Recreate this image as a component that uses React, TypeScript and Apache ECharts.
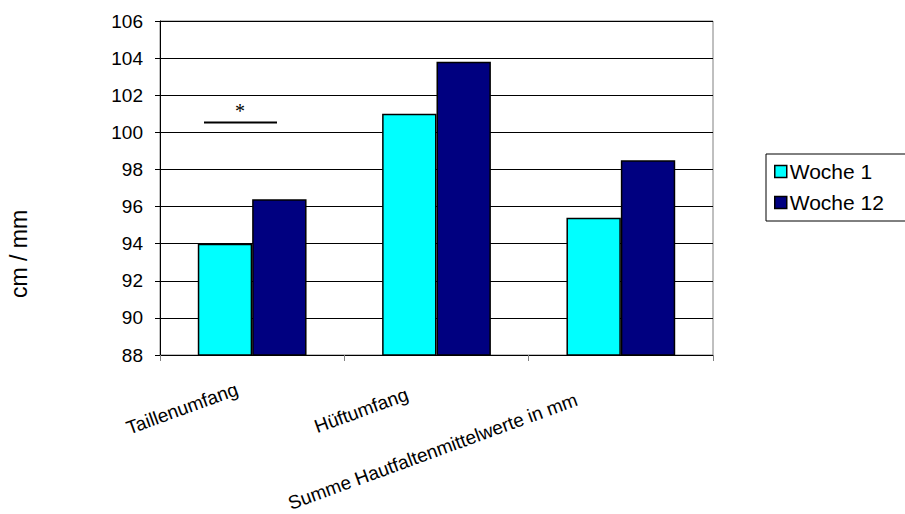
import React, { useEffect, useRef } from "react";
import * as echarts from "echarts";

const categories = ["Taillenumfang", "Hüftumfang", "Summe Hautfaltenmittelwerte in mm"];
const woche1 = [94.0, 101.0, 95.4];
const woche12 = [96.4, 103.8, 98.5];
const seriesNames = ["Woche 1", "Woche 12"];
const yTitle = "cm / mm";

export default function App() {
  const ref = useRef<HTMLDivElement>(null);
  useEffect(() => {
    if (!ref.current) return;
    const chart = echarts.init(ref.current, null, { renderer: "svg" });
    const font = "'Liberation Sans', Arial, sans-serif";
    chart.setOption({
      animation: false,
      backgroundColor: "#ffffff",
      textStyle: { fontFamily: font, color: "#000" },
      grid: {
        left: 160,
        right: 192,
        top: 21,
        bottom: 159,
        show: true,
        borderColor: "#808080",
        borderWidth: 1,
        containLabel: false,
      },
      legend: {
        orient: "vertical",
        left: 766,
        top: 154,
        data: seriesNames,
        icon: "rect",
        itemWidth: 12,
        itemHeight: 12,
        itemGap: 10,
        padding: [7, 30, 8, 8],
        borderColor: "#000",
        borderWidth: 1,
        textStyle: { fontFamily: font, fontSize: 21, color: "#000", padding: [0, 0, 0, -2] },
        itemStyle: { borderColor: "#000", borderWidth: 1.5 },
      },
      xAxis: {
        type: "category",
        data: categories,
        axisLine: { show: true, lineStyle: { color: "#000", width: 1 } },
        axisTick: { show: true, length: 6, lineStyle: { color: "#808080" } },
        axisLabel: {
          rotate: 20,
          margin: 28,
          fontSize: 19,
          fontFamily: font,
          color: "#000",
          interval: 0,
          formatter: (v: string, i: number) => `{p${i}|${v}}`,
          rich: {
            p0: { fontSize: 19, fontFamily: font, color: "#000", padding: [0, 16, 0, 0] },
            p1: { fontSize: 19, fontFamily: font, color: "#000", padding: [0, 31, 0, 0] },
            p2: { fontSize: 19, fontFamily: font, color: "#000", padding: [0, 47, 0, 0] },
          },
        },
      },
      yAxis: {
        type: "value",
        min: 88,
        max: 106,
        interval: 2,
        axisLine: { show: true, lineStyle: { color: "#000", width: 1 } },
        axisTick: { show: true, length: 5, lineStyle: { color: "#000" } },
        axisLabel: { fontSize: 19, fontFamily: font, color: "#000", margin: 17 },
        splitLine: { show: true, lineStyle: { color: "#000", width: 1 } },
      },
      series: [
        {
          name: seriesNames[0],
          type: "bar",
          data: woche1,
          barGap: "0%",
          barCategoryGap: "41%",
          itemStyle: { color: "#00FFFF", borderColor: "#000", borderWidth: 1.5 },
        },
        {
          name: seriesNames[1],
          type: "bar",
          data: woche12,
          itemStyle: { color: "#000080", borderColor: "#000", borderWidth: 1.5 },
        },
      ],
      graphic: [
        {
          type: "text",
          x: 19,
          y: 254,
          rotation: Math.PI / 2,
          style: {
            text: yTitle,
            font: "23px 'Liberation Sans', Arial, sans-serif",
            fill: "#000",
            align: "center",
            verticalAlign: "middle",
          },
        },
        {
          type: "line",
          shape: { x1: 204, y1: 122.5, x2: 277, y2: 122.5 },
          style: { stroke: "#000", lineWidth: 2 },
        },
        {
          type: "text",
          x: 240,
          y: 111,
          style: {
            text: "*",
            font: "20px 'Liberation Serif', 'Times New Roman', serif",
            fill: "#000",
            align: "center",
            verticalAlign: "middle",
          },
        },
      ],
    });
    return () => chart.dispose();
  }, []);
  return <div ref={ref} style={{ width: 905, height: 514, position: "absolute", left: 0, top: 0 }} />;
}
